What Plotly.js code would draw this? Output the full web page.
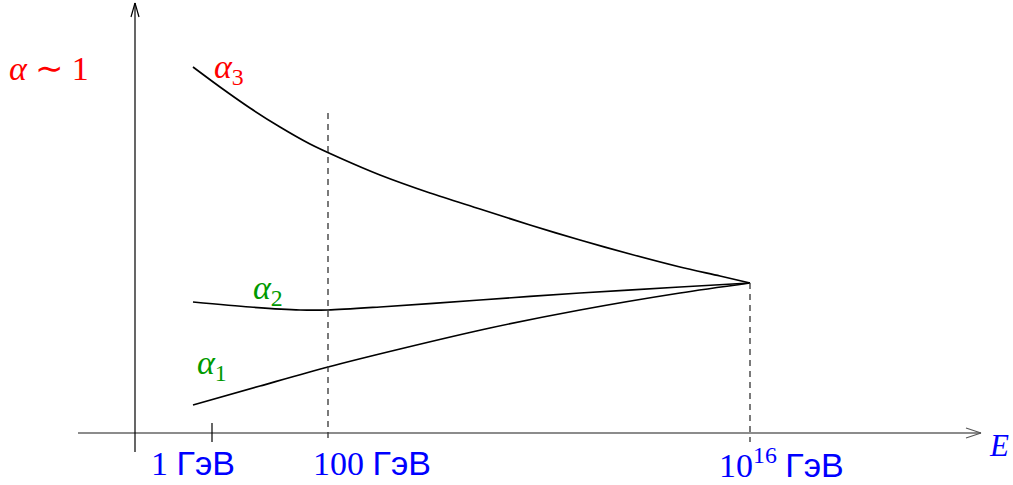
<!DOCTYPE html>
<html>
<head>
<meta charset="utf-8">
<script src="https://cdn.plot.ly/plotly-3.0.1.min.js"></script>
<style>
  html, body { margin: 0; padding: 0; background: #fff; }
  #plot { width: 1013px; height: 485px; }
</style>
</head>
<body>
<div id="plot"></div>
<script>
// schematic coordinates: x grows with energy, y grows downward (smaller alpha at bottom)
const alpha3X = [193, 220, 250, 280, 310, 340, 380, 430, 480, 530, 580, 630, 680, 720, 750];
const alpha3Y = [67, 87, 108, 127, 144, 158, 175, 193, 209, 225, 240, 254, 267, 276, 283];
const alpha2X = [193, 250, 300, 328, 380, 480, 580, 680, 750];
const alpha2Y = [302, 307, 310, 310, 307, 300, 293, 287, 283];
const alpha1X = [193, 260, 328, 400, 490, 580, 680, 750];
const alpha1Y = [405, 386, 367, 349, 328, 310, 293, 283];

const tickPos = [212, 328, 750];
const tickText = [
  '1 <span style="font-family:Liberation Sans">ГэВ</span>',
  '100 <span style="font-family:Liberation Sans">ГэВ</span>',
  '10<sup>16</sup> <span style="font-family:Liberation Sans">ГэВ</span>'
];
const tickLabelX = [193, 372, 781];

const axisY = 433;
const axisX = 135;
const unifyY = 283;

const serif = 'Liberation Serif';
const red = '#ff0000', green = '#009a00', blue = '#0000ff';

function curve(x, y) {
  return {x: x, y: y, mode: 'lines', type: 'scatter', hoverinfo: 'skip',
          line: {color: '#000', width: 1.7, shape: 'spline', smoothing: 0.8}};
}

const data = [curve(alpha3X, alpha3Y), curve(alpha2X, alpha2Y), curve(alpha1X, alpha1Y)];

function seg(x0, y0, x1, y1, color, width, dash) {
  return {type: 'line', xref: 'x', yref: 'y', x0: x0, y0: y0, x1: x1, y1: y1,
          line: {color: color, width: width, dash: dash || 'solid'}};
}

const shapes = [
  // axes
  seg(78, axisY, 981, axisY, '#666', 1.6),
  seg(axisX, 452, axisX, 3, '#000', 1.2),
  // arrow heads
  seg(966, axisY - 5, 981, axisY, '#555', 1.2),
  seg(966, axisY + 5, 981, axisY, '#555', 1.2),
  seg(axisX - 4, 17, axisX, 3, '#000', 1.2),
  seg(axisX + 4, 17, axisX, 3, '#000', 1.2),
  // ticks and guides
  seg(tickPos[0], 423, tickPos[0], 442, '#000', 1.2),
  seg(tickPos[1], 113, tickPos[1], 442, '#333', 1.3, '6px,5px'),
  seg(tickPos[2], unifyY, tickPos[2], 442, '#333', 1.3, '6px,5px')
];

function label(x, y, text, color, size) {
  return {x: x, y: y, xref: 'x', yref: 'y', text: text, showarrow: false,
          xanchor: 'center', yanchor: 'middle',
          font: {family: serif, size: size, color: color}};
}

const annotations = [
  label(49, 68, '<i>α</i> ∼ 1', red, 34),
  label(229, 69, '<i>α</i><sub>3</sub>', red, 34),
  label(268, 290, '<i>α</i><sub>2</sub>', green, 34),
  label(212, 365, '<i>α</i><sub>1</sub>', green, 34),
  label(999, 445, '<i>E</i>', blue, 31)
];
tickPos.forEach((p, i) => {
  annotations.push(label(tickLabelX[i], 463, tickText[i], blue, 34));
});

const layout = {
  width: 1013, height: 485,
  margin: {l: 0, r: 0, t: 0, b: 0},
  paper_bgcolor: '#fff', plot_bgcolor: '#fff',
  showlegend: false,
  xaxis: {range: [0, 1013], visible: false, fixedrange: true},
  yaxis: {range: [485, 0], visible: false, fixedrange: true},
  shapes: shapes,
  annotations: annotations
};

Plotly.newPlot('plot', data, layout, {staticPlot: true});
</script>
</body>
</html>
